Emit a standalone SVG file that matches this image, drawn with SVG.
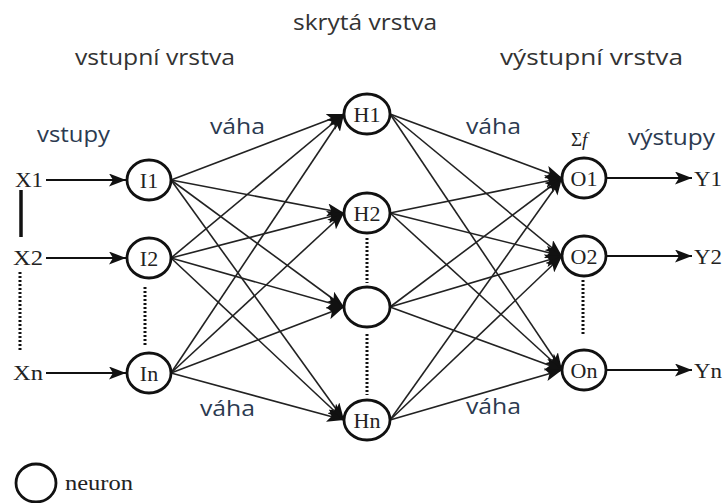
<svg xmlns="http://www.w3.org/2000/svg" width="723" height="503" viewBox="0 0 723 503">
  <style>
    .node { fill: #fff; stroke: #111; stroke-width: 2.8; }
    .lbl { font-family: "Liberation Serif", "Times New Roman", serif; font-size: 22px; fill: #222; text-anchor: middle; }
    .io { font-family: "Liberation Serif", "Times New Roman", serif; font-size: 21px; fill: #222; }
    .head { font-family: "Open Sans", "Liberation Sans", sans-serif; font-size: 22px; fill: #333; }
    .note { font-family: "Open Sans", "Liberation Sans", sans-serif; font-size: 22px; fill: #2c3a50; }
    .edge { stroke: #222; stroke-width: 1.6; fill: none; }
    .arrow { stroke: #111; stroke-width: 2; fill: none; }
    .dots { stroke: #111; stroke-width: 3; stroke-dasharray: 2 2; fill: none; }
  </style>
  <defs>
    <marker id="head" viewBox="0 0 17 13" refX="17" refY="6.5" markerWidth="17" markerHeight="13" markerUnits="userSpaceOnUse" orient="auto">
      <path d="M0,0 L17,6.5 L0,13 L4,6.5 Z" fill="#111"/>
    </marker>
  </defs>
  <rect width="723" height="503" fill="#fff"/>

  <!-- layer titles -->
  <text class="head" x="293" y="30" textLength="144" lengthAdjust="spacingAndGlyphs">skrytá vrstva</text>
  <text class="head" x="75" y="65" textLength="160" lengthAdjust="spacingAndGlyphs">vstupní vrstva</text>
  <text class="head" x="500" y="65" textLength="183" lengthAdjust="spacingAndGlyphs">výstupní vrstva</text>

  <!-- annotations -->
  <text class="note" x="37" y="142" textLength="73" lengthAdjust="spacingAndGlyphs">vstupy</text>
  <text class="note" x="210" y="134" textLength="55" lengthAdjust="spacingAndGlyphs">váha</text>
  <text class="note" x="466" y="134" textLength="55" lengthAdjust="spacingAndGlyphs">váha</text>
  <text class="note" x="200" y="416" textLength="55" lengthAdjust="spacingAndGlyphs">váha</text>
  <text class="note" x="466" y="414" textLength="55" lengthAdjust="spacingAndGlyphs">váha</text>
  <text class="note" x="628" y="145" textLength="87" lengthAdjust="spacingAndGlyphs">výstupy</text>
  <text x="571" y="146" font-family="Liberation Serif, serif" font-size="19" fill="#222">Σ<tspan font-style="italic">f</tspan></text>

  <!-- connectors -->
  <g id="connectors">
    <!-- inputs to input layer -->
    <line class="arrow" x1="46" y1="180" x2="126" y2="180" marker-end="url(#head)"/>
    <line class="arrow" x1="46" y1="258" x2="126" y2="258" marker-end="url(#head)"/>
    <line class="arrow" x1="46" y1="373" x2="126" y2="373" marker-end="url(#head)"/>
    <!-- input layer to hidden layer -->
    <line class="edge" x1="171" y1="180" x2="344" y2="114" marker-end="url(#head)"/>
    <line class="edge" x1="171" y1="180" x2="344" y2="213" marker-end="url(#head)"/>
    <line class="edge" x1="171" y1="180" x2="344" y2="307" marker-end="url(#head)"/>
    <line class="edge" x1="171" y1="180" x2="344" y2="420" marker-end="url(#head)"/>
    <line class="edge" x1="171" y1="258" x2="344" y2="114" marker-end="url(#head)"/>
    <line class="edge" x1="171" y1="258" x2="344" y2="213" marker-end="url(#head)"/>
    <line class="edge" x1="171" y1="258" x2="344" y2="307" marker-end="url(#head)"/>
    <line class="edge" x1="171" y1="258" x2="344" y2="420" marker-end="url(#head)"/>
    <line class="edge" x1="171" y1="373" x2="344" y2="114" marker-end="url(#head)"/>
    <line class="edge" x1="171" y1="373" x2="344" y2="213" marker-end="url(#head)"/>
    <line class="edge" x1="171" y1="373" x2="344" y2="307" marker-end="url(#head)"/>
    <line class="edge" x1="171" y1="373" x2="344" y2="420" marker-end="url(#head)"/>
    <!-- hidden layer to output layer -->
    <line class="edge" x1="390" y1="114" x2="562" y2="178" marker-end="url(#head)"/>
    <line class="edge" x1="390" y1="114" x2="562" y2="256" marker-end="url(#head)"/>
    <line class="edge" x1="390" y1="114" x2="562" y2="370" marker-end="url(#head)"/>
    <line class="edge" x1="390" y1="213" x2="562" y2="178" marker-end="url(#head)"/>
    <line class="edge" x1="390" y1="213" x2="562" y2="256" marker-end="url(#head)"/>
    <line class="edge" x1="390" y1="213" x2="562" y2="370" marker-end="url(#head)"/>
    <line class="edge" x1="390" y1="307" x2="562" y2="178" marker-end="url(#head)"/>
    <line class="edge" x1="390" y1="307" x2="562" y2="256" marker-end="url(#head)"/>
    <line class="edge" x1="390" y1="307" x2="562" y2="370" marker-end="url(#head)"/>
    <line class="edge" x1="390" y1="420" x2="562" y2="178" marker-end="url(#head)"/>
    <line class="edge" x1="390" y1="420" x2="562" y2="256" marker-end="url(#head)"/>
    <line class="edge" x1="390" y1="420" x2="562" y2="370" marker-end="url(#head)"/>
    <!-- outputs -->
    <line class="arrow" x1="606" y1="178" x2="692" y2="178" marker-end="url(#head)"/>
    <line class="arrow" x1="606" y1="256" x2="692" y2="256" marker-end="url(#head)"/>
    <line class="arrow" x1="606" y1="370" x2="692" y2="370" marker-end="url(#head)"/>
    <!-- continuation marks -->
    <line x1="21" y1="190" x2="21" y2="237" stroke="#111" stroke-width="3.5"/>
    <line class="dots" x1="20" y1="272" x2="20" y2="352"/>
    <line class="dots" x1="145" y1="287" x2="145" y2="345"/>
    <line class="dots" x1="367" y1="238" x2="367" y2="283"/>
    <line class="dots" x1="367" y1="334" x2="367" y2="395"/>
    <line class="dots" x1="583" y1="280" x2="583" y2="336"/>
  </g>

  <!-- input signals -->
  <g id="X1"><text class="io" x="15" y="187" textLength="28" lengthAdjust="spacingAndGlyphs">X1</text></g>
  <g id="X2"><text class="io" x="13" y="265" textLength="30" lengthAdjust="spacingAndGlyphs">X2</text></g>
  <g id="Xn"><text class="io" x="13" y="380" textLength="30" lengthAdjust="spacingAndGlyphs">Xn</text></g>

  <!-- input layer -->
  <g id="I1"><ellipse class="node" cx="149" cy="180" rx="22" ry="20"/><text class="lbl" x="149" y="188">I1</text></g>
  <g id="I2"><ellipse class="node" cx="149" cy="258" rx="22" ry="20"/><text class="lbl" x="149" y="266">I2</text></g>
  <g id="In"><ellipse class="node" cx="149" cy="373" rx="22" ry="20"/><text class="lbl" x="149" y="381">In</text></g>

  <!-- hidden layer -->
  <g id="H1"><ellipse class="node" cx="367" cy="114" rx="23" ry="20"/><text class="lbl" x="367" y="122">H1</text></g>
  <g id="H2"><ellipse class="node" cx="367" cy="213" rx="23" ry="20"/><text class="lbl" x="367" y="221">H2</text></g>
  <g id="H3"><ellipse class="node" cx="367" cy="307" rx="23" ry="20"/></g>
  <g id="Hn"><ellipse class="node" cx="367" cy="420" rx="23" ry="20"/><text class="lbl" x="367" y="428">Hn</text></g>

  <!-- output layer -->
  <g id="O1"><ellipse class="node" cx="584" cy="178" rx="22" ry="20"/><text class="lbl" x="584" y="186">O1</text></g>
  <g id="O2"><ellipse class="node" cx="584" cy="256" rx="22" ry="20"/><text class="lbl" x="584" y="264">O2</text></g>
  <g id="On"><ellipse class="node" cx="584" cy="370" rx="22" ry="20"/><text class="lbl" x="584" y="378">On</text></g>

  <!-- output signals -->
  <g id="Y1"><text class="io" x="694" y="186" textLength="28" lengthAdjust="spacingAndGlyphs">Y1</text></g>
  <g id="Y2"><text class="io" x="694" y="264" textLength="28" lengthAdjust="spacingAndGlyphs">Y2</text></g>
  <g id="Yn"><text class="io" x="694" y="378" textLength="28" lengthAdjust="spacingAndGlyphs">Yn</text></g>

  <!-- legend -->
  <g id="legend">
    <ellipse class="node" cx="36" cy="483" rx="20" ry="19"/>
    <text class="io" x="65" y="490" font-size="19" textLength="68" lengthAdjust="spacingAndGlyphs">neuron</text>
  </g>
</svg>
